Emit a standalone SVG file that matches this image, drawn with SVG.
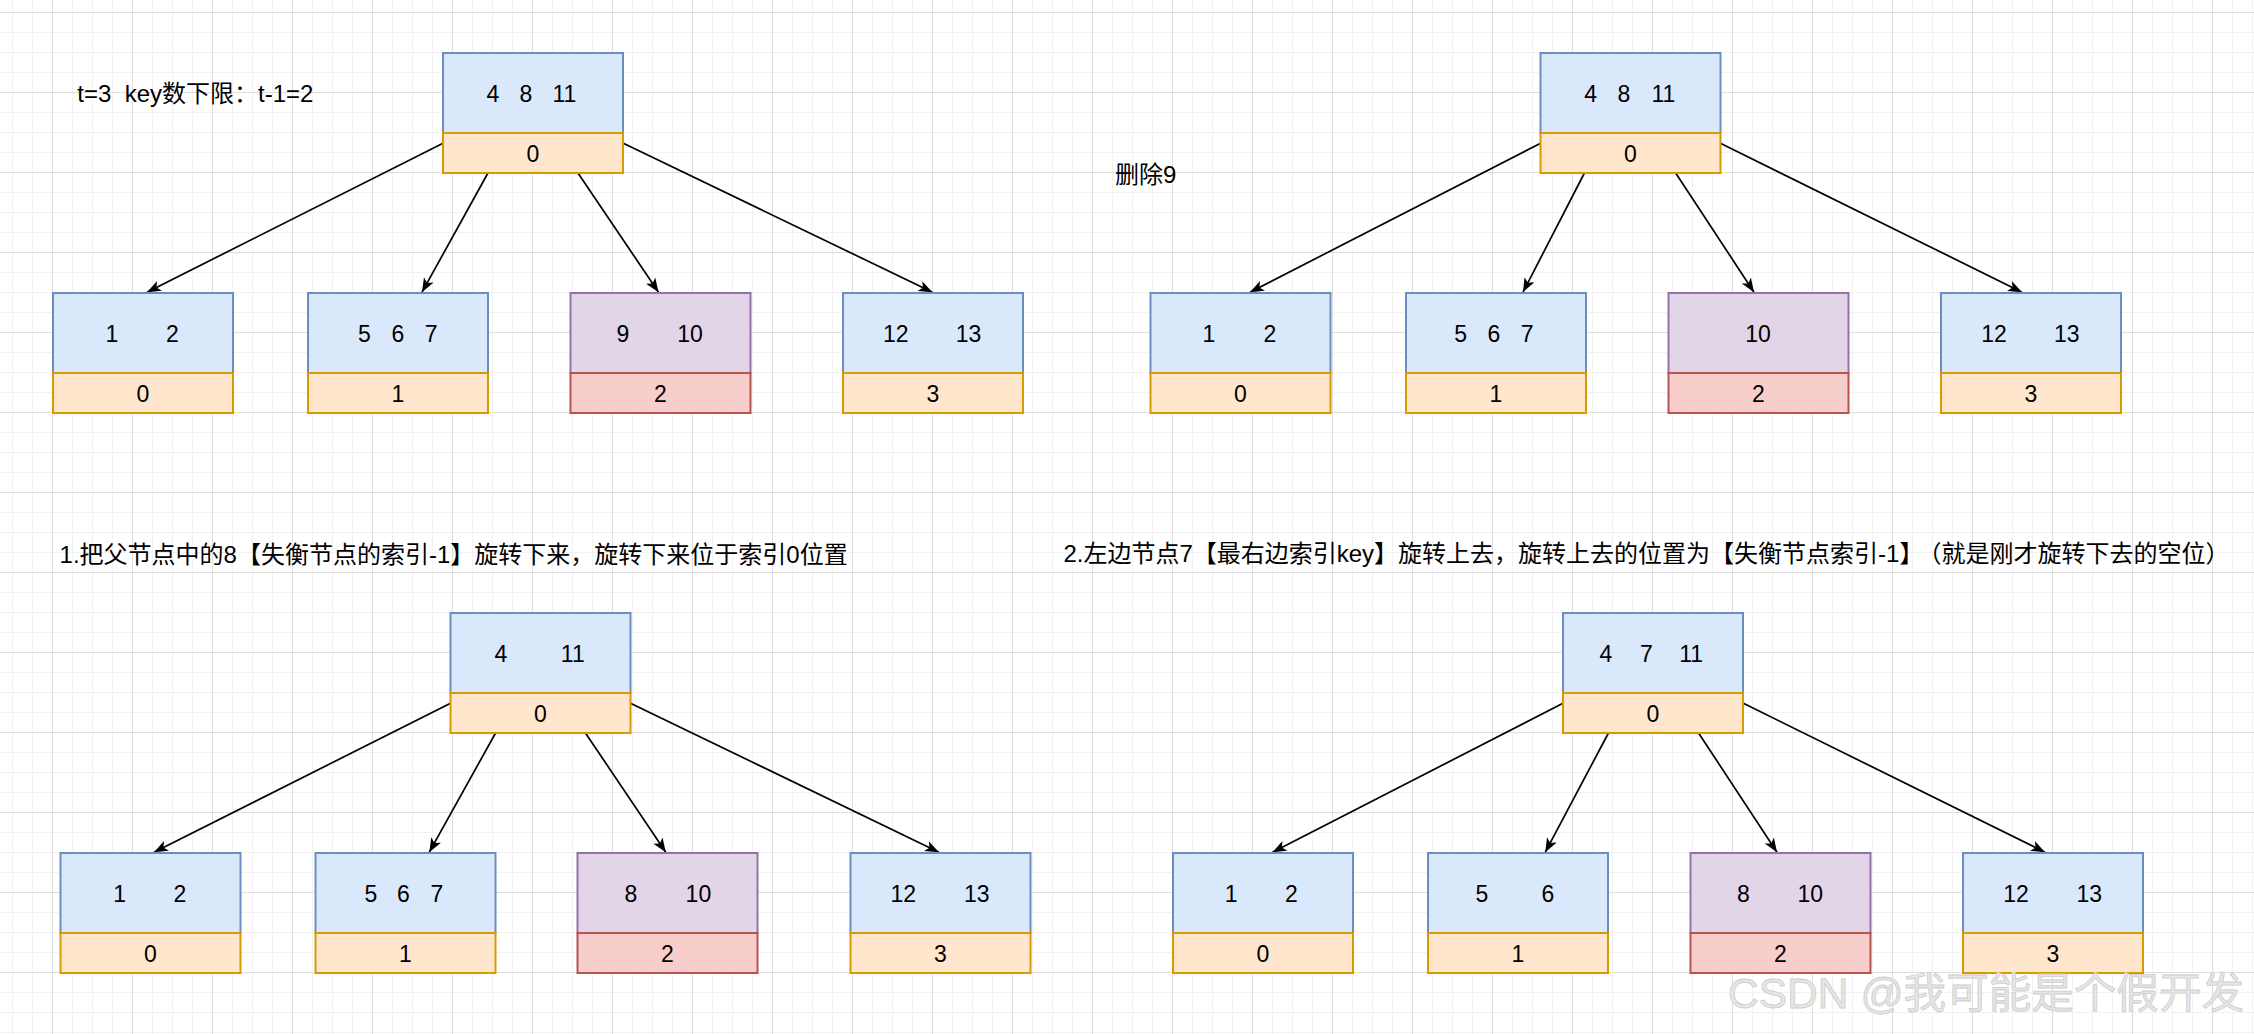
<svg xmlns="http://www.w3.org/2000/svg" width="2254" height="1034" viewBox="0 0 2254 1034">
<defs>
<pattern id="grid" x="52" y="12" width="80" height="80" patternUnits="userSpaceOnUse">
<path d="M20.5 0V80M40.5 0V80M60.5 0V80M0 20.5H80M0 40.5H80M0 60.5H80" stroke="#f2f2f2" stroke-width="1" fill="none"/>
<path d="M0.5 0V80M0 0.5H80" stroke="#dedede" stroke-width="1" fill="none"/>
</pattern>
<marker id="arr" markerUnits="userSpaceOnUse" markerWidth="16" markerHeight="12" refX="14" refY="5.5" orient="auto" overflow="visible">
<path d="M0,0 L14,5.5 L0,11 L3.5,5.5 Z" fill="#000"/>
</marker>
<style>
.k{fill:#dae8fc;stroke:#6c8ebf;stroke-width:2}
.i{fill:#ffe6cc;stroke:#d79b00;stroke-width:2}
.kp{fill:#e1d5e7;stroke:#9673a6;stroke-width:2}
.ir{fill:#f8cecc;stroke:#b85450;stroke-width:2}
text{font-family:"Liberation Sans","Noto Sans CJK SC",sans-serif;fill:#000}
.n{font-size:23px;text-anchor:middle}
.t{font-size:24px}
.e{fill:none;stroke:#000;stroke-width:1.7;marker-end:url(#arr)}
.wm{font-size:42px;fill:#e6e6e6;stroke:#cdcdcd;stroke-width:0.8}
</style>
</defs>
<rect width="2254" height="1034" fill="#fff"/>
<rect width="2254" height="1034" fill="url(#grid)"/>

<g id="labels">
<text class="t" x="77.3" y="101.5" xml:space="preserve">t=3  key数下限：t-1=2</text>
<text class="t" x="1115" y="182.5">删除9</text>
<text class="t" x="59.6" y="562.5">1.把父节点中的8【失衡节点的索引-1】旋转下来，旋转下来位于索引0位置</text>
<text class="t" x="1063.4" y="562">2.左边节点7【最右边索引key】旋转上去，旋转上去的位置为【失衡节点索引-1】<tspan dx="6">（就是刚才旋转下去的空位）</tspan></text>
</g>

<g id="connectors">
<line class="e" x1="443" y1="143.3" x2="147" y2="292.2"/>
<line class="e" x1="487.7" y1="173.5" x2="422" y2="292.2"/>
<line class="e" x1="578.3" y1="173.5" x2="658.5" y2="292.2"/>
<line class="e" x1="623.3" y1="143.3" x2="932.5" y2="292.2"/>

<line class="e" x1="1540.6" y1="143.3" x2="1250" y2="292.2"/>
<line class="e" x1="1584.2" y1="173.5" x2="1523" y2="292.2"/>
<line class="e" x1="1676" y1="173.5" x2="1754" y2="292.2"/>
<line class="e" x1="1720.4" y1="143.3" x2="2022" y2="292.2"/>

<line class="e" x1="450.5" y1="703.3" x2="154" y2="852.2"/>
<line class="e" x1="495.3" y1="733.5" x2="429.3" y2="852.2"/>
<line class="e" x1="585.8" y1="733.5" x2="665.8" y2="852.2"/>
<line class="e" x1="630.5" y1="703.3" x2="939" y2="852.2"/>

<line class="e" x1="1563" y1="703.3" x2="1272.5" y2="852.2"/>
<line class="e" x1="1608.2" y1="733.5" x2="1545.3" y2="852.2"/>
<line class="e" x1="1698.9" y1="733.5" x2="1777" y2="852.2"/>
<line class="e" x1="1743.4" y1="703.3" x2="2045" y2="852.2"/>
</g>

<!-- Panel 1 -->
<g id="p1-root">
<rect class="k" x="443" y="53" width="180" height="80"/>
<rect class="i" x="443" y="133" width="180" height="40"/>
<text class="n" y="101.5"><tspan x="493">4</tspan><tspan x="526">8</tspan><tspan x="564.4">11</tspan></text>
<text class="n" x="533" y="161.5">0</text>
</g>
<g id="p1-leaf0">
<rect class="k" x="53" y="293" width="180" height="80"/>
<rect class="i" x="53" y="373" width="180" height="40"/>
<text class="n" y="341.5"><tspan x="112">1</tspan><tspan x="172.3">2</tspan></text>
<text class="n" x="143" y="401.5">0</text>
</g>
<g id="p1-leaf1">
<rect class="k" x="308" y="293" width="180" height="80"/>
<rect class="i" x="308" y="373" width="180" height="40"/>
<text class="n" y="341.5"><tspan x="364.5">5</tspan><tspan x="397.8">6</tspan><tspan x="431.2">7</tspan></text>
<text class="n" x="398" y="401.5">1</text>
</g>
<g id="p1-leaf2">
<rect class="kp" x="570.5" y="293" width="180" height="80"/>
<rect class="ir" x="570.5" y="373" width="180" height="40"/>
<text class="n" y="341.5"><tspan x="622.9">9</tspan><tspan x="690">10</tspan></text>
<text class="n" x="660.5" y="401.5">2</text>
</g>
<g id="p1-leaf3">
<rect class="k" x="843" y="293" width="180" height="80"/>
<rect class="i" x="843" y="373" width="180" height="40"/>
<text class="n" y="341.5"><tspan x="895.8">12</tspan><tspan x="968.6">13</tspan></text>
<text class="n" x="933" y="401.5">3</text>
</g>

<!-- Panel 2 -->
<g id="p2-root">
<rect class="k" x="1540.5" y="53" width="180" height="80"/>
<rect class="i" x="1540.5" y="133" width="180" height="40"/>
<text class="n" y="101.5"><tspan x="1590.7">4</tspan><tspan x="1624">8</tspan><tspan x="1663.4">11</tspan></text>
<text class="n" x="1630.5" y="161.5">0</text>
</g>
<g id="p2-leaf0">
<rect class="k" x="1150.5" y="293" width="180" height="80"/>
<rect class="i" x="1150.5" y="373" width="180" height="40"/>
<text class="n" y="341.5"><tspan x="1208.8">1</tspan><tspan x="1270">2</tspan></text>
<text class="n" x="1240.5" y="401.5">0</text>
</g>
<g id="p2-leaf1">
<rect class="k" x="1406" y="293" width="180" height="80"/>
<rect class="i" x="1406" y="373" width="180" height="40"/>
<text class="n" y="341.5"><tspan x="1460.6">5</tspan><tspan x="1493.9">6</tspan><tspan x="1527.2">7</tspan></text>
<text class="n" x="1496" y="401.5">1</text>
</g>
<g id="p2-leaf2">
<rect class="kp" x="1668.5" y="293" width="180" height="80"/>
<rect class="ir" x="1668.5" y="373" width="180" height="40"/>
<text class="n" x="1758" y="341.5">10</text>
<text class="n" x="1758.5" y="401.5">2</text>
</g>
<g id="p2-leaf3">
<rect class="k" x="1941" y="293" width="180" height="80"/>
<rect class="i" x="1941" y="373" width="180" height="40"/>
<text class="n" y="341.5"><tspan x="1994">12</tspan><tspan x="2066.7">13</tspan></text>
<text class="n" x="2031" y="401.5">3</text>
</g>

<!-- Panel 3 -->
<g id="p3-root">
<rect class="k" x="450.5" y="613" width="180" height="80"/>
<rect class="i" x="450.5" y="693" width="180" height="40"/>
<text class="n" y="661.5"><tspan x="500.9">4</tspan><tspan x="572.8">11</tspan></text>
<text class="n" x="540.5" y="721.5">0</text>
</g>
<g id="p3-leaf0">
<rect class="k" x="60.5" y="853" width="180" height="80"/>
<rect class="i" x="60.5" y="933" width="180" height="40"/>
<text class="n" y="901.5"><tspan x="119.6">1</tspan><tspan x="180">2</tspan></text>
<text class="n" x="150.5" y="961.5">0</text>
</g>
<g id="p3-leaf1">
<rect class="k" x="315.5" y="853" width="180" height="80"/>
<rect class="i" x="315.5" y="933" width="180" height="40"/>
<text class="n" y="901.5"><tspan x="370.8">5</tspan><tspan x="403.4">6</tspan><tspan x="437">7</tspan></text>
<text class="n" x="405.5" y="961.5">1</text>
</g>
<g id="p3-leaf2">
<rect class="kp" x="577.5" y="853" width="180" height="80"/>
<rect class="ir" x="577.5" y="933" width="180" height="40"/>
<text class="n" y="901.5"><tspan x="631">8</tspan><tspan x="698.4">10</tspan></text>
<text class="n" x="667.5" y="961.5">2</text>
</g>
<g id="p3-leaf3">
<rect class="k" x="850.5" y="853" width="180" height="80"/>
<rect class="i" x="850.5" y="933" width="180" height="40"/>
<text class="n" y="901.5"><tspan x="903.2">12</tspan><tspan x="976.8">13</tspan></text>
<text class="n" x="940.5" y="961.5">3</text>
</g>

<!-- Panel 4 -->
<g id="p4-root">
<rect class="k" x="1563" y="613" width="180" height="80"/>
<rect class="i" x="1563" y="693" width="180" height="40"/>
<text class="n" y="661.5"><tspan x="1606">4</tspan><tspan x="1646.3">7</tspan><tspan x="1691.2">11</tspan></text>
<text class="n" x="1653" y="721.5">0</text>
</g>
<g id="p4-leaf0">
<rect class="k" x="1173" y="853" width="180" height="80"/>
<rect class="i" x="1173" y="933" width="180" height="40"/>
<text class="n" y="901.5"><tspan x="1231.2">1</tspan><tspan x="1291.5">2</tspan></text>
<text class="n" x="1263" y="961.5">0</text>
</g>
<g id="p4-leaf1">
<rect class="k" x="1428" y="853" width="180" height="80"/>
<rect class="i" x="1428" y="933" width="180" height="40"/>
<text class="n" y="901.5"><tspan x="1481.9">5</tspan><tspan x="1548">6</tspan></text>
<text class="n" x="1518" y="961.5">1</text>
</g>
<g id="p4-leaf2">
<rect class="kp" x="1690.5" y="853" width="180" height="80"/>
<rect class="ir" x="1690.5" y="933" width="180" height="40"/>
<text class="n" y="901.5"><tspan x="1743.4">8</tspan><tspan x="1810.2">10</tspan></text>
<text class="n" x="1780.5" y="961.5">2</text>
</g>
<g id="p4-leaf3">
<rect class="k" x="1963" y="853" width="180" height="80"/>
<rect class="i" x="1963" y="933" width="180" height="40"/>
<text class="n" y="901.5"><tspan x="2016">12</tspan><tspan x="2089.3">13</tspan></text>
<text class="n" x="2053" y="961.5">3</text>
</g>

<g id="watermark">
<text class="wm" x="1728" y="1008" textLength="516" lengthAdjust="spacingAndGlyphs">CSDN @我可能是个假开发</text>
</g>
</svg>
